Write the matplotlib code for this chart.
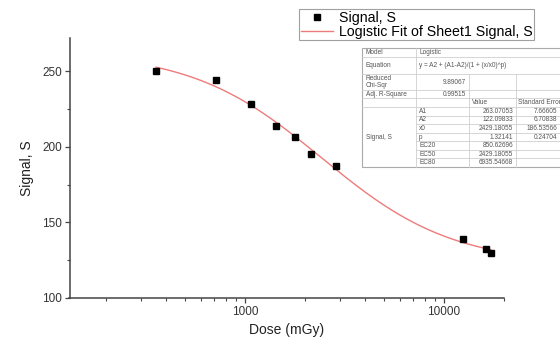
import numpy as np
import matplotlib.pyplot as plt
from matplotlib.lines import Line2D

plt.rcParams['font.family'] = ['Liberation Sans', 'DejaVu Sans']

# measured points
dose = [357, 715, 1072, 1431, 1782, 2138, 2863, 12420, 16150, 17150]
signal = [250.0, 244.0, 228.3, 214.1, 206.4, 195.4, 187.6, 139.0, 132.5, 129.7]

# fit report (Origin style table)
A1, A2, X0, P = 263.07053, 122.09833, 2429.18055, 1.32141
stat_names = ["Reduced\nChi-Sqr", "Adj. R-Square"]
stat_values = ["9.89067", "0.99515"]
par_names = ["A1", "A2", "x0", "p", "EC20", "EC50", "EC80"]
par_values = ["263.07053", "122.09833", "2429.18055", "1.32141",
              "850.62696", "2429.18055", "6935.54668"]
par_errors = ["7.66605", "6.70838", "186.53566", "0.24704", "", "", ""]

W, H = 560, 345
fig = plt.figure(figsize=(W / 100, H / 100), dpi=100)
ax = fig.add_axes([69.5 / W, 1 - 298 / H, (504 - 69.5) / W, (298 - 38) / H])

xf = np.logspace(np.log10(dose[0]), np.log10(dose[-1]), 300)
yf = A2 + (A1 - A2) / (1 + (xf / X0) ** P)
ax.plot(xf, yf, color='#ee7b7b', lw=1.0, label="Logistic Fit of Sheet1 Signal, S", zorder=2)
ax.plot(dose, signal, ls='none', marker='s', ms=5, color='black', label="Signal, S", zorder=3)

ax.set_xscale('log')
ax.set_xlim(131, 20000)
ax.set_ylim(100, 272)
ax.set_yticks([100, 150, 200, 250])
ax.set_yticks([125, 175, 225], minor=True)
ax.set_xticks([1000, 10000])
ax.set_xticklabels(["1000", "10000"])
for s in ['top', 'right']:
    ax.spines[s].set_visible(False)
for s in ['left', 'bottom']:
    ax.spines[s].set_color('#444444')
    ax.spines[s].set_linewidth(1.1)
ax.tick_params(which='major', direction='out', length=3.5, width=0.9, color='#444444',
               labelsize=8.5, labelcolor='#333333', pad=2)
ax.tick_params(which='minor', direction='out', length=2, width=0.8, color='#444444')
ax.tick_params(axis='x', which='minor', labelbottom=False)
ax.set_xlabel("Dose (mGy)", fontsize=10, color='#222222', labelpad=4)
ax.set_ylabel("Signal, S", fontsize=10, color='#222222', labelpad=6)

h, l = ax.get_legend_handles_labels()
leg = ax.legend(h[::-1], l[::-1], loc='upper left', bbox_to_anchor=(299 / W, 1 - 9 / H),
                bbox_transform=fig.transFigure, fontsize=10.2, frameon=True, fancybox=False,
                edgecolor='#888888', borderpad=0.12, labelspacing=0.0, handlelength=2.3,
                handletextpad=0.4, borderaxespad=0, numpoints=1)
leg.get_frame().set_linewidth(0.8)

# table drawn in pixel units
def fx(x):
    return x / W


def fy(y):
    return 1 - y / H


rows = [48, 57, 74, 90, 98, 107, 115.6, 124.1, 132.7, 141.3, 149.9, 158.4, 167]
c0, c1, c2, c3, c4 = 362, 416, 469, 516, 562
fig.patches.append(plt.Rectangle((fx(c0), fy(rows[-1])), fx(c4 - c0), rows[-1] / H - rows[0] / H,
                                 transform=fig.transFigure, facecolor='white',
                                 edgecolor='#aaaaaa', lw=0.8, zorder=5))
grid = '#cfcfcf'


def hline(y, xa, xb):
    fig.add_artist(Line2D([fx(xa), fx(xb)], [fy(y), fy(y)], color=grid, lw=0.6, zorder=6))


def vline(x, ya, yb):
    fig.add_artist(Line2D([fx(x), fx(x)], [fy(ya), fy(yb)], color=grid, lw=0.6, zorder=6))


for i, y in enumerate(rows[1:-1], start=1):
    hline(y, c1 if i > 5 else c0, c4)
vline(c1, rows[0], rows[-1])
vline(c2, rows[2], rows[-1])
vline(c3, rows[2], rows[-1])

tc = '#555555'
fs = 4.7


def cell(x, i, s, ha='left'):
    yc = (rows[i] + rows[i + 1]) / 2
    fig.text(fx(x), fy(yc), s, fontsize=fs, color=tc, ha=ha, va='center', zorder=7,
             linespacing=1.0)


cell(c0 + 4, 0, "Model")
cell(c1 + 3, 0, "Logistic")
cell(c0 + 4, 1, "Equation")
cell(c1 + 3, 1, "y = A2 + (A1-A2)/(1 + (x/x0)^p)")
for k, (n, v) in enumerate(zip(stat_names, stat_values)):
    cell(c0 + 4, 2 + k, n)
    cell(c2 - 3, 2 + k, v, ha='right')
cell(c2 + 3, 4, "Value")
cell(c3 + 2, 4, "Standard Error")
for k, (n, v, e) in enumerate(zip(par_names, par_values, par_errors)):
    cell(c1 + 3, 5 + k, n)
    cell(c3 - 3, 5 + k, v, ha='right')
    cell(c4 - 5, 5 + k, e, ha='right')
fig.text(fx(c0 + 4), fy((rows[5] + rows[-1]) / 2), "Signal, S", fontsize=fs, color=tc,
         ha='left', va='center', zorder=7)

fig.savefig("out.png", dpi=100)
